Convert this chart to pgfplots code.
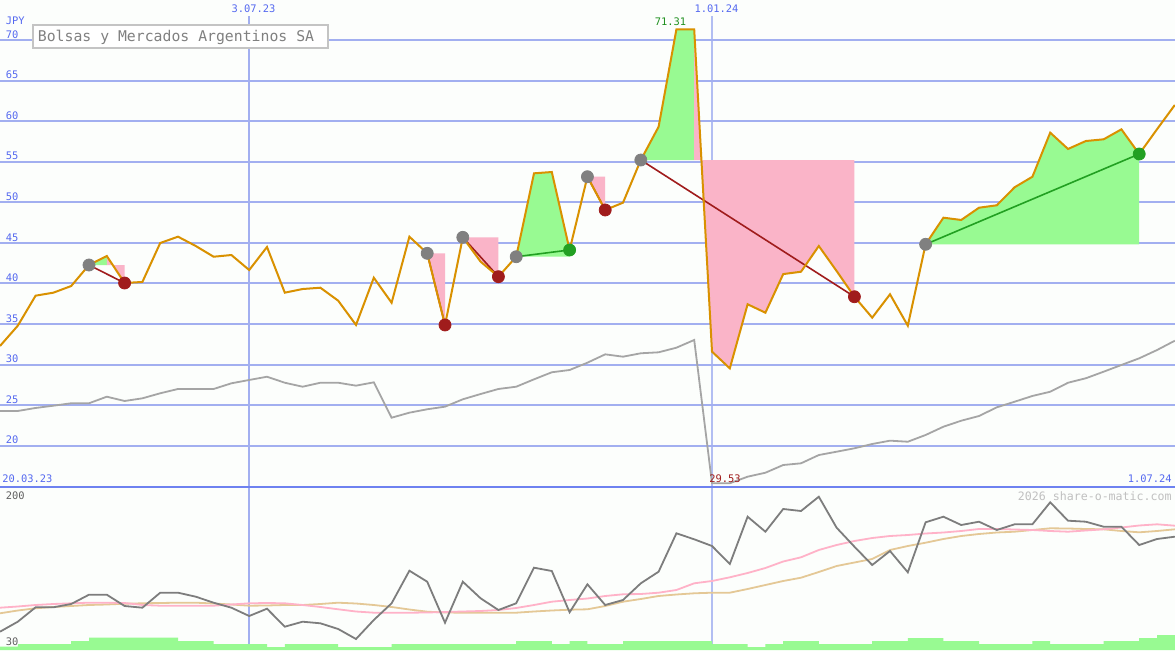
\documentclass[border=0pt]{standalone}
\usepackage{fontspec}
\setmainfont{DejaVu Sans Mono}
\usepackage{pgfplots}
\usepackage{pgfplotstable}
\pgfplotsset{compat=1.18}

\definecolor{bgcol}{RGB}{252,254,252}
\definecolor{gridblue}{RGB}{162,175,240}
\definecolor{gridblue2}{RGB}{178,190,242}
\definecolor{sepblue}{RGB}{110,130,240}
\definecolor{lblblue}{RGB}{85,105,240}
\definecolor{pricecol}{RGB}{217,145,0}
\definecolor{pinkfill}{RGB}{250,180,200}
\definecolor{greenfill}{RGB}{152,250,146}
\definecolor{lossred}{RGB}{160,28,28}
\definecolor{wingreen}{RGB}{34,160,34}
\definecolor{mkgray}{RGB}{128,128,128}
\definecolor{cmpgray}{RGB}{165,165,165}
\definecolor{oscgray}{RGB}{125,125,125}
\definecolor{mapink}{RGB}{255,178,200}
\definecolor{matan}{RGB}{228,200,150}
\definecolor{boxgray}{RGB}{196,196,196}
\definecolor{titlegray}{RGB}{128,128,128}
\definecolor{wmgray}{RGB}{192,192,192}
\definecolor{lowlbl}{RGB}{96,96,96}

\newcommand\sm{\fontsize{5.2}{6}\selectfont}

% weekly closes (JPY) and comparison line, week index 0 = 20.03.23
\pgfplotstableread{
i close cmp
0 32.29 24.28
1 34.79 24.28
2 38.49 24.65
3 38.86 24.93
4 39.68 25.23
5 42.27 25.23
6 43.38 26.04
7 40.05 25.51
8 40.18 25.84
9 44.98 26.46
10 45.76 26.99
11 44.61 26.99
12 43.29 26.99
13 43.50 27.69
14 41.65 28.10
15 44.49 28.50
16 38.86 27.76
17 39.31 27.27
18 39.47 27.76
19 37.87 27.76
20 34.88 27.40
21 40.70 27.81
22 37.62 23.45
23 45.76 24.07
24 43.71 24.49
25 34.88 24.81
26 45.68 25.72
27 42.68 26.37
28 40.83 26.99
29 43.29 27.27
30 53.57 28.18
31 53.73 29.05
32 44.12 29.33
33 53.15 30.23
34 49.05 31.26
35 49.95 30.97
36 55.21 31.39
37 59.31 31.51
38 71.31 32.08
39 71.31 33.03
40 31.59 15.37
41 29.53 15.37
42 37.43 16.18
43 36.39 16.67
44 41.15 17.62
45 41.44 17.83
46 44.61 18.85
47 41.53 19.26
48 38.36 19.68
49 35.78 20.21
50 38.66 20.62
51 34.79 20.49
52 44.82 21.32
53 48.10 22.34
54 47.82 23.08
55 49.33 23.66
56 49.63 24.73
57 51.85 25.42
58 53.15 26.13
59 58.58 26.65
60 56.57 27.76
61 57.55 28.31
62 57.76 29.12
63 58.99 29.95
64 55.95 30.77
65 59.00 31.79
66 61.99 32.94
}\uppertab

% lower panel: oscillator, two averages, volume bars
\pgfplotstableread{
i osc maf mas vol
0 18.3 42.3 36.7 3.3
1 28.3 43.5 39.5 6
2 42.7 45 41.7 6
3 42.7 46 43 6
4 46 46.7 44 9
5 55.3 47.3 45 12.3
6 55.3 47.3 45.5 12.3
7 44 47 46.3 12.3
8 42.3 45 46.7 12.3
9 57.3 44.3 47 12.3
10 57.3 44.3 47.3 9
11 53.3 44.3 47.3 9
12 47.3 44.3 46.5 6
13 42.3 45.5 45.5 6
14 34 46.7 44.3 6
15 41.3 47 44.5 3
16 23.3 46.7 45 6
17 28.3 45 45 6
18 26.7 43 46 6
19 21 40.7 47.3 3
20 11 38.5 46.5 3
21 30 37.3 45 3
22 46.7 37.3 43 6
23 79.3 37.3 40.5 6
24 68.3 37.5 38.3 6
25 27.3 38 37.5 6
26 68.3 38.5 37.3 6
27 51.7 39 37.3 6
28 40 40 37.3 6
29 46.7 42 37.3 9
30 82.3 45 38.5 9
31 79 48.3 39.5 6
32 37.7 50 40.3 9
33 65.7 51.5 40.7 6
34 45 54 44 6
35 50 55.7 48.3 9
36 66.7 56 51 9
37 78.3 57.3 54 9
38 116.7 60 55.5 9
39 110.7 66.7 56.7 9
40 104 69 57.3 6
41 86 72.7 57.3 6
42 133.3 77 61 3
43 118.3 82 65 6
44 141 88.5 69 9
45 139 92.7 72.3 9
46 153.3 100 78 6
47 122.3 105 84 6
48 103.3 109 87.5 6
49 85 112 91 9
50 99 114 100 9
51 77.7 115 104 12
52 127.7 116.5 107.3 12
53 133.3 117.5 111 9
54 125 119 114 9
55 128.3 121 116 6
56 120 121 117.5 6
57 125.7 120.5 118.3 6
58 125.7 120 120 9
59 147.7 119 121.7 6
60 129.3 118.3 121.5 6
61 128.3 119.5 121 6
62 123.3 120.7 120.7 9
63 123.3 122.5 119 9
64 105 124.5 117.7 12
65 111 125.7 119 15
66 113.3 124.3 120.7 15
}\lowertab

\begin{document}
\begin{tikzpicture}
% pixel frame: 1 px = 0.5pt, origin top left
\begin{scope}[x=0.5pt, y=-0.5pt, yshift=325pt]
  \fill[bgcol] (0,0) rectangle (1175,650);
  \draw[gridblue, line width=0.8pt] (249.2,16) -- (249.2,650);
  \draw[gridblue2, line width=0.55pt] (712,16) -- (712,650);
\end{scope}

\begin{axis}[
  at={(0,81.5pt)}, anchor=south west,
  scale only axis, width=587.5pt, height=243.5pt,
  xmin=0, xmax=66.01, ymin=14.91, ymax=74.93,
  axis line style={draw=none},
  xtick=\empty,
  ytick={20,25,...,70}, yticklabels={},
  major tick length=0pt,
  ymajorgrids,
  grid style={gridblue, line width=1pt},
]
\addplot[cmpgray, line width=0.9pt] table[x=i, y=cmp] {\uppertab};
% entries
\addplot[only marks, mark=*, mark size=3pt, mkgray]
  coordinates {(5,42.27)(24,43.71)(26,45.68)(29,43.29)(33,53.15)(36,55.21)(52,44.82)};
% trade areas
\addplot[draw=none, fill=greenfill] coordinates {(5,42.27)(6,43.38)(6,42.27)};
\addplot[draw=none, fill=pinkfill] coordinates {(6,42.27)(6,43.38)(7,40.05)(7,42.27)};
\addplot[draw=none, fill=pinkfill] coordinates {(24,43.71)(25,34.88)(25,43.71)};
\addplot[draw=none, fill=pinkfill] coordinates {(26,45.68)(27,42.68)(28,40.83)(28,45.68)};
\addplot[draw=none, fill=greenfill] coordinates {(29,43.29)(30,53.57)(31,53.73)(32,44.12)(32,43.29)};
\addplot[draw=none, fill=pinkfill] coordinates {(33,53.15)(34,49.05)(34,53.15)};
\addplot[draw=none, fill=greenfill] coordinates {(36,55.21)(37,59.31)(38,71.31)(39,71.31)(39,55.21)};
\addplot[draw=none, fill=pinkfill] coordinates {(39,55.21)(39,71.31)(40,31.59)(41,29.53)(42,37.43)(43,36.39)(44,41.15)(45,41.44)(46,44.61)(47,41.53)(48,38.36)(48,55.21)};
\addplot[draw=none, fill=greenfill] coordinates {(52,44.82)(53,48.10)(54,47.82)(55,49.33)(56,49.63)(57,51.85)(58,53.15)(59,58.58)(60,56.57)(61,57.55)(62,57.76)(63,58.99)(64,55.95)(64,44.82)};
% trade lines
\addplot[lossred, line width=0.8pt] coordinates {(5,42.27)(7,40.05)};
\addplot[lossred, line width=0.8pt] coordinates {(24,43.71)(25,34.88)};
\addplot[lossred, line width=0.8pt] coordinates {(26,45.68)(28,40.83)};
\addplot[lossred, line width=0.8pt] coordinates {(33,53.15)(34,49.05)};
\addplot[lossred, line width=0.8pt] coordinates {(36,55.21)(48,38.36)};
\addplot[wingreen, line width=0.8pt] coordinates {(29,43.29)(32,44.12)};
\addplot[wingreen, line width=0.8pt] coordinates {(52,44.82)(64,55.95)};
% exits
\addplot[only marks, mark=*, mark size=3pt, lossred]
  coordinates {(7,40.05)(25,34.88)(28,40.83)(34,49.05)(48,38.36)};
\addplot[only marks, mark=*, mark size=3pt, wingreen]
  coordinates {(32,44.12)(64,55.95)};
\addplot[pricecol, line width=1pt] table[x=i, y=close] {\uppertab};
\end{axis}

\begin{axis}[
  at={(0,0)}, anchor=south west,
  scale only axis, width=587.5pt, height=81.5pt,
  xmin=0, xmax=66.01, ymin=0, ymax=163,
  hide axis,
]
\addplot[const plot, fill=greenfill, draw=none] table[x=i, y=vol] {\lowertab} \closedcycle;
\addplot[matan, line width=0.9pt] table[x=i, y=mas] {\lowertab};
\addplot[mapink, line width=0.9pt] table[x=i, y=maf] {\lowertab};
\addplot[oscgray, line width=0.9pt] table[x=i, y=osc] {\lowertab};
\end{axis}

\begin{scope}[x=0.5pt, y=-0.5pt, yshift=325pt]
  \draw[sepblue, line width=0.9pt] (0,486.7) -- (1175,486.7);
  % price scale
  \foreach \v/\p in {70/40,65/80.6,60/121.1,55/161.7,50/202.3,45/242.9,40/283.4,35/324,30/364.6,25/405.1,20/445.7}
    \node[lblblue, anchor=base west, inner sep=0, font=\sm] at (5.5,\p-1.8) {\v};
  \node[lblblue, anchor=base west, inner sep=0, font=\sm] at (5.5,25) {JPY};
  \node[lblblue, inner sep=0, font=\sm] at (253.5,9) {3.07.23};
  \node[lblblue, inner sep=0, font=\sm] at (716.5,9) {1.01.24};
  \node[lblblue, anchor=west, inner sep=0, font=\sm] at (2,479) {20.03.23};
  \node[lblblue, anchor=east, inner sep=0, font=\sm] at (1172,479) {1.07.24};
  \node[wingreen!90!black, inner sep=0, font=\sm] at (670.5,21.3) {71.31};
  \node[lossred, anchor=west, inner sep=0, font=\sm] at (709,479) {29.53};
  \node[wmgray, anchor=east, inner sep=0, font=\fontsize{5.8}{7}\selectfont] at (1172,496) {2026 share-o-matic.com};
  \node[lowlbl, anchor=west, inner sep=0, font=\sm] at (5.5,496) {200};
  \node[lowlbl, anchor=west, inner sep=0, font=\sm] at (5.5,642) {30};
  % title box
  \draw[boxgray, line width=1pt, fill=white] (33,25) rectangle (328,48);
  \node[titlegray, anchor=base west, inner sep=0, font=\fontsize{7.4}{9}\selectfont] at (37.5,41.7) {Bolsas y Mercados Argentinos SA};
\end{scope}

\pgfresetboundingbox
\useasboundingbox (0,0) rectangle (587.5pt,325pt);
\end{tikzpicture}
\end{document}
